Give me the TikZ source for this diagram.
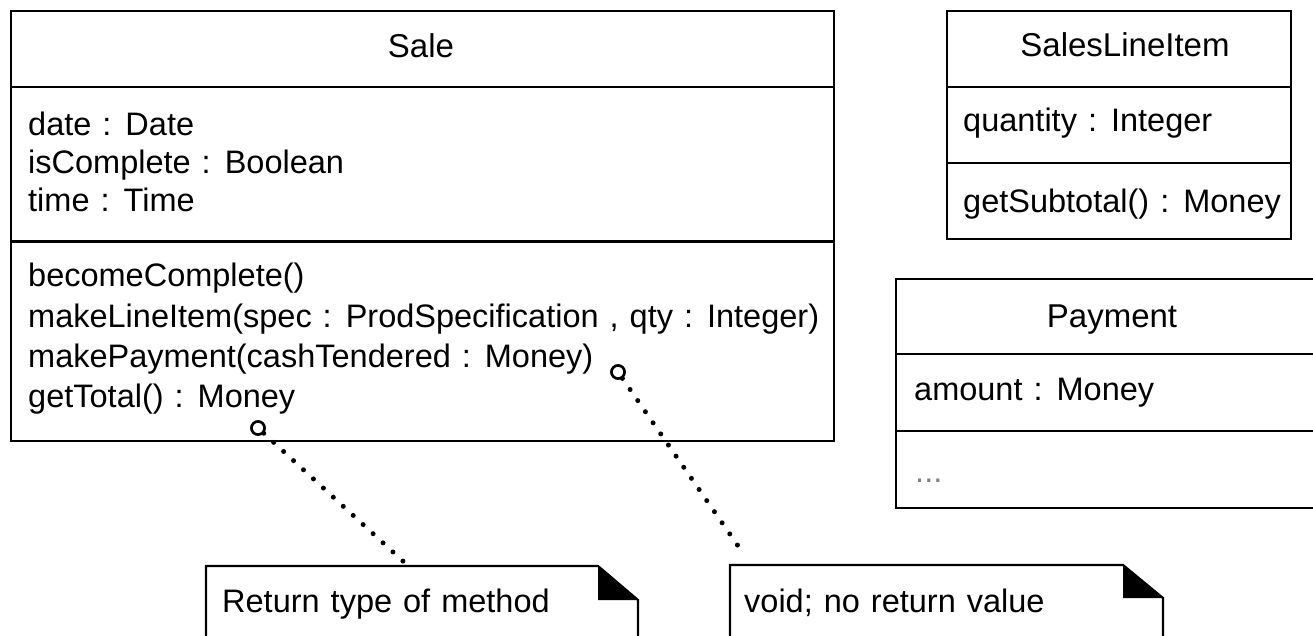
\documentclass[tikz,border=0pt]{standalone}
\usepackage{fontspec}
\setmainfont{Liberation Sans}
\newcommand\umlbodyfont{\fontsize{32.5}{38}\selectfont\spaceskip=11pt\relax}
\newcommand\umltitlefont{\fontsize{33}{38}\selectfont\relax}
\begin{document}
\begin{tikzpicture}[x=1pt,y=-1pt, font=\umlbodyfont,
  box/.style={draw, line width=2pt, inner sep=0pt, anchor=north west},
  txt/.style={anchor=base west, inner sep=0pt},
  ttl/.style={anchor=base, inner sep=0pt, font=\umltitlefont},
  sep/.style={line width=2pt},
  pin/.style={circle, draw, line width=2.5pt, minimum size=13pt, inner sep=0pt, fill=white},
  dots/.style={line width=5pt, line cap=round, dash pattern=on 0pt off 13.5pt},
  notebox/.style={draw, line width=2.2pt, fill=white},
]
\useasboundingbox (0,0) rectangle (1313,636);

% Sale class
\node[box, minimum width=823pt, minimum height=430pt] (sale) at (10,10) {};
\draw[sep] (10,87) -- (833,87);
\draw[line width=3pt] (10,242) -- (833,242);
\node[ttl] (saleT) at (421,58) {Sale};
\node[txt] (a1) at (28,136) {date : Date};
\node[txt] (a2) at (28,174) {isComplete : Boolean};
\node[txt] (a3) at (28,212) {time : Time};
\node[txt] (m1) at (28,286) {becomeComplete()};
\node[txt] (m2) at (28,327) {makeLineItem(spec : ProdSpecification , qty : Integer)};
\node[txt] (m3) at (28,367) {makePayment(cashTendered : Money)};
\node[txt] (m4) at (28,407) {getTotal() : Money};

% SalesLineItem class
\node[box, minimum width=344pt, minimum height=228pt] (sli) at (946,10) {};
\draw[sep] (946,87) -- (1290,87);
\draw[sep] (946,163) -- (1290,163);
\node[ttl] (sliT) at (1125,57) {SalesLineItem};
\node[txt] (s1) at (963,132) {quantity : Integer};
\node[txt] (s2) at (963,213) {getSubtotal() : Money};

% Payment class (cut at right edge)
\node[box, minimum width=425pt, minimum height=229pt] (pay) at (895,278) {};
\draw[sep] (895,354) -- (1320,354);
\draw[sep] (895,431) -- (1320,431);
\node[ttl] (payT) at (1112,327) {Payment};
\node[txt] (p1) at (914,400) {amount : Money};
\node[txt, text=gray] (p2) at (915,482) {...};

% Notes
\draw[notebox] (206,566) -- (598,566) -- (638,600) -- (638,645) -- (206,645) -- cycle;
\fill (598,566) -- (598,600) -- (638,600) -- cycle;
\node[txt] (n1) at (222,612) {Return type of method};
\coordinate (n1top) at (405,563);

\draw[notebox] (730,565) -- (1123,565) -- (1163,598) -- (1163,645) -- (730,645) -- cycle;
\fill (1123,565) -- (1123,598) -- (1163,598) -- cycle;
\node[txt] (n2) at (744,612) {void; no return value};
\coordinate (n2top) at (745,556);

% Anchors and dotted connectors
\node[pin] (c1) at (258,428) {};
\node[pin] (c2) at (618,372) {};
\draw[dots] (c1) -- (n1top);
\draw[dots] (c2) -- (n2top);
\node[pin] at (c1) {};
\node[pin] at (c2) {};
\end{tikzpicture}
\end{document}
